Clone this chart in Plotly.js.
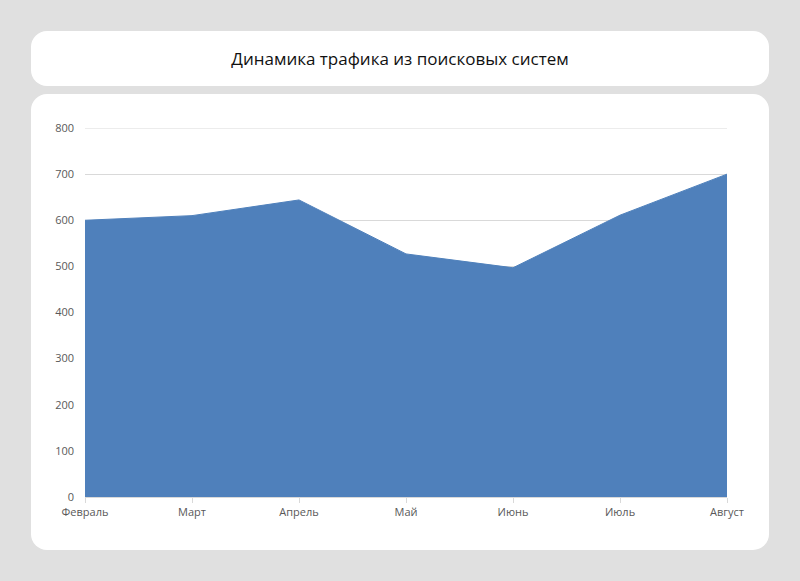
<!DOCTYPE html>
<html>
<head>
<meta charset="utf-8">
<script src="https://cdn.plot.ly/plotly-3.0.1.min.js"></script>
<style>
  html, body { margin: 0; padding: 0; background: #e0e0e0; }
  #page { position: relative; width: 800px; height: 581px; overflow: hidden; }
  .card { position: absolute; background: #ffffff; border-radius: 16px; }
  #title-card { left: 31px; top: 31px; width: 738px; height: 55px; }
  #chart-card { left: 31px; top: 94px; width: 738px; height: 456px; }
  #traffic-chart { position: absolute; left: 0; top: 0; width: 800px; height: 581px; }
</style>
</head>
<body>
<div id="page">
  <div class="card" id="title-card"></div>
  <div class="card" id="chart-card"></div>
  <div id="traffic-chart"></div>
</div>
<script>
// Months and visits
const months = ["Февраль", "Март", "Апрель", "Май", "Июнь", "Июль", "Август"];
const visits = [600, 610, 644, 527, 497, 611, 700];
const yTicks = [0, 100, 200, 300, 400, 500, 600, 700, 800];
const yMax = 800;

var chartDiv = document.getElementById("traffic-chart");

var trafficTrace = {
  x: months,
  y: visits,
  type: "scatter",
  mode: "lines",
  fill: "tozeroy",
  fillcolor: "#4f80bb",
  line: { color: "#4f80bb", width: 1 },
  hoverinfo: "x+y",
};

var layout = {
  width: 800,
  height: 581,
  margin: { t: 128, b: 84, l: 85, r: 73, pad: 0 },
  paper_bgcolor: "rgba(0,0,0,0)",
  plot_bgcolor: "rgba(0,0,0,0)",
  showlegend: false,
  font: { family: "Open Sans, sans-serif", size: 11, color: "#595959" },
  title: {
    text: "Динамика трафика из поисковых систем",
    font: { family: "Open Sans, sans-serif", size: 17, color: "#111111" },
    x: 0.5,
    xanchor: "center",
    yref: "container",
    y: 1 - 59 / 581,
    yanchor: "middle",
  },
  xaxis: {
    type: "category",
    range: [0, 6],
    autorange: false,
    showgrid: false,
    showline: true,
    linecolor: "#d9d9d9",
    linewidth: 1,
    ticks: "outside",
    ticklen: 5,
    tickcolor: "#d9d9d9",
    tickfont: { size: 11, color: "#595959" },
    fixedrange: true,
  },
  yaxis: {
    range: [0, yMax],
    autorange: false,
    tickvals: yTicks,
    showgrid: true,
    gridcolor: "#d9d9d9",
    gridwidth: 1,
    zeroline: false,
    showline: false,
    ticks: "",
    ticklabelstandoff: 10,
    tickfont: { size: 11, color: "#595959" },
    fixedrange: true,
  },
  // plotly skips the gridline on the top edge, so draw that one by hand
  shapes: [
    {
      type: "line",
      xref: "paper",
      yref: "y",
      x0: 0,
      x1: 1,
      y0: yMax,
      y1: yMax,
      layer: "below",
      line: { color: "#d9d9d9", width: 1 },
    },
  ],
};

Plotly.newPlot(chartDiv, [trafficTrace], layout, { displayModeBar: false, staticPlot: true });
</script>
</body>
</html>
